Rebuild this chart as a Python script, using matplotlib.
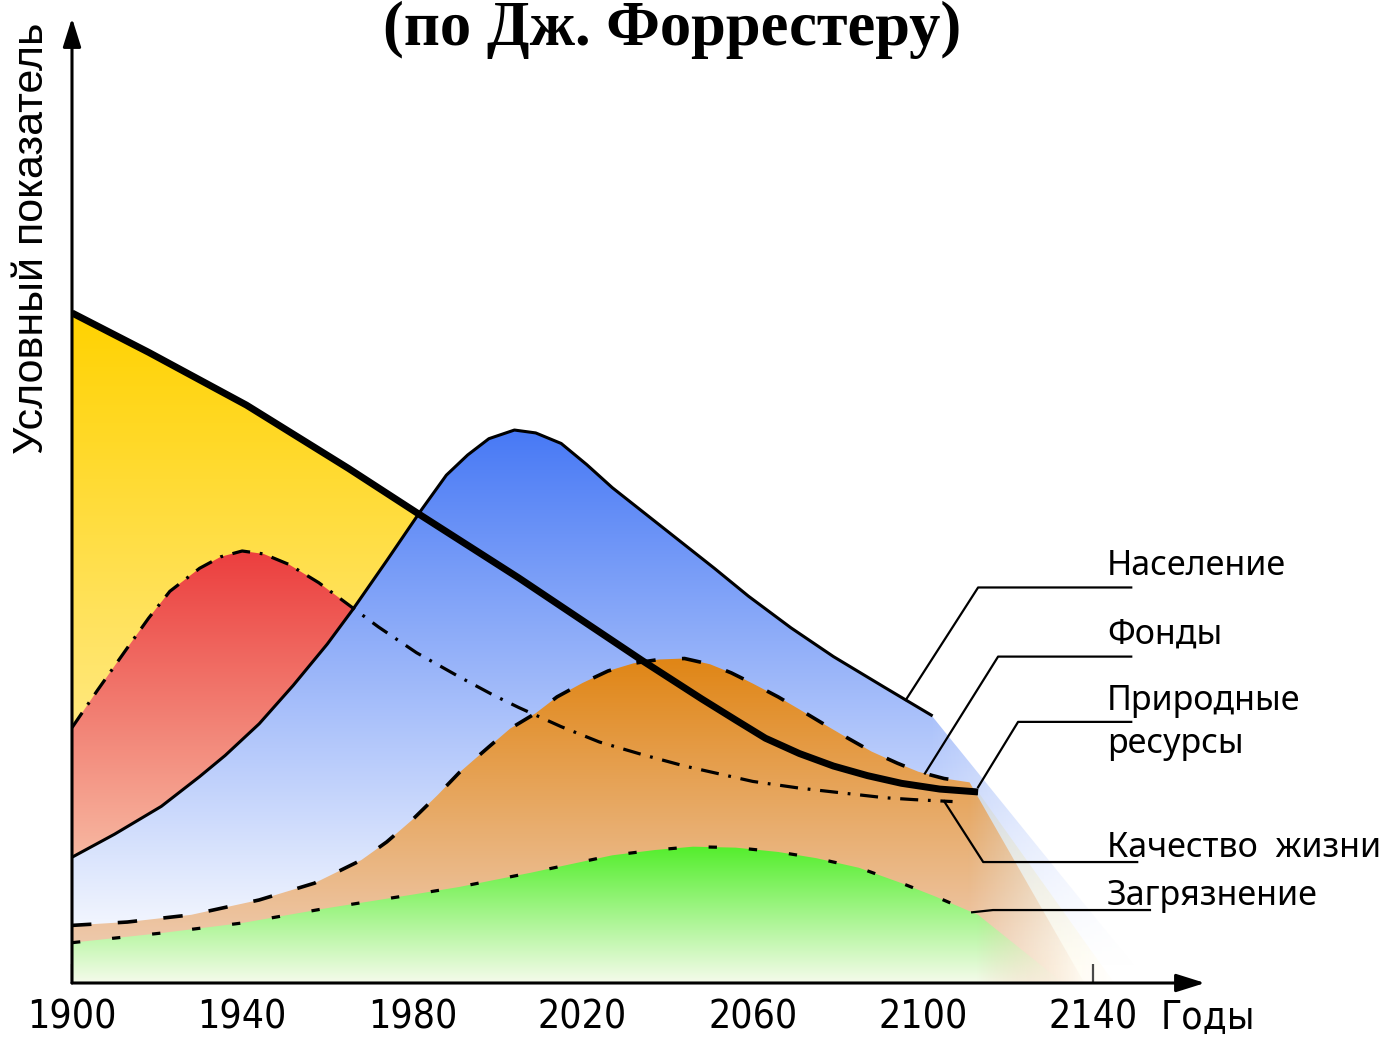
import numpy as np
import matplotlib
matplotlib.use('Agg')
import matplotlib.pyplot as plt
from matplotlib.colors import to_rgb
from matplotlib import font_manager as fm

plt.rcParams['lines.scale_dashes'] = False

# ---------------- data ----------------
tick_years = [1900, 1940, 1980, 2020, 2060, 2100, 2140]
tick_labels = ['1900', '1940', '1980', '2020', '2060', '2100', '2140']

# Природные ресурсы (thick solid)
res_years = [1900, 1918, 1941, 1965, 1981, 2005, 2034, 2041, 2048, 2056, 2063, 2071, 2079,
             2087, 2095, 2104, 2113]
res_vals = [69.8, 65.7, 60.2, 53.6, 49.0, 42.2, 33.6, 31.6, 29.6, 27.4, 25.5, 23.9, 22.6,
            21.6, 20.8, 20.2, 19.9]

# Население (thin solid)
pop_years = [1900, 1910, 1921, 1930, 1936, 1944, 1952, 1960, 1966, 1974, 1982, 1988, 1993,
             1998, 2004, 2009, 2015, 2021, 2027, 2035, 2043, 2051, 2059, 2069, 2079, 2091,
             2102]
pop_vals = [13.1, 15.5, 18.4, 21.5, 23.7, 27.0, 31.0, 35.3, 38.9, 44.0, 49.2, 52.9, 55.0,
            56.7, 57.6, 57.3, 56.2, 54.0, 51.6, 48.8, 46.0, 43.2, 40.3, 37.0, 34.0, 30.8,
            27.9]

# Качество жизни (dash-dot)
qol_years = [1900, 1906, 1913, 1918, 1923, 1930, 1935, 1940, 1945, 1951, 1958, 1965, 1972,
             1981, 1991, 1999, 2005, 2015, 2024, 2034, 2044, 2060, 2071, 2081, 2091, 2098,
             2107]
qol_vals = [26.6, 30.5, 34.9, 38.0, 40.8, 43.2, 44.4, 45.0, 44.7, 43.6, 41.7, 39.4, 37.1,
            34.4, 31.9, 30.0, 28.7, 26.7, 25.1, 23.8, 22.6, 21.0, 20.3, 19.8, 19.3, 19.1,
            18.9]
qol_red_end = 1972  # red area only shows where the curve is above population

# Фонды (dashed)
cap_years = [1900, 1913, 1928, 1944, 1957, 1968, 1974, 1980, 1986, 1991, 1998, 2003, 2009,
             2014, 2020, 2026, 2032, 2038, 2044, 2050, 2055, 2060, 2066, 2071, 2077, 2082,
             2088, 2094, 2099, 2105, 2111]
cap_vals = [6.0, 6.35, 7.1, 8.65, 10.4, 12.8, 14.7, 17.0, 19.6, 21.9, 24.6, 26.5, 28.1,
            29.8, 31.25, 32.5, 33.3, 33.7, 33.8, 33.2, 32.3, 31.2, 29.8, 28.5, 26.9, 25.6,
            24.1, 22.9, 22.0, 21.3, 20.9]

# Загрязнение (dotted)
pol_years = [1900, 1921, 1940, 1960, 1980, 1991, 2008, 2027, 2037, 2046, 2056, 2066, 2075,
             2085, 2095, 2103, 2113]
pol_vals = [4.2, 5.2, 6.25, 7.8, 9.2, 10.0, 11.5, 13.3, 13.85, 14.2, 14.1, 13.65, 13.0,
            12.0, 10.4, 9.0, 7.1]

# year where each faded tail reaches the axis
tail_pop, tail_res, tail_cap, tail_pol = 2153, 2145, 2138, 2133

labels = ['Население', 'Фонды', 'Природные', 'ресурсы', 'Качество  жизни', 'Загрязнение']

# ---------------- fonts ----------------
ttf = fm.fontManager.ttflist
names = {f.name for f in ttf}
if 'Liberation Sans Narrow' in names:
    tick_kw = dict(family='Liberation Sans Narrow', fontsize=31)
elif 'Arial Narrow' in names:
    tick_kw = dict(family='Arial Narrow', fontsize=31)
elif any(f.name == 'DejaVu Sans' and f.stretch in ('condensed', 'semi-condensed') for f in ttf):
    tick_kw = dict(family='DejaVu Sans', fontstretch='condensed', fontsize=28)
else:
    tick_kw = dict(family='Liberation Sans', fontsize=27)

# ---------------- figure ----------------
W, H, DPI = 1386, 1037, 100
fig = plt.figure(figsize=(W / DPI, H / DPI), dpi=DPI)
fig.patch.set_facecolor('white')
ax_l, ax_r, ax_t, ax_b = 72, 1205, 18, 983
ax = fig.add_axes([ax_l / W, 1 - ax_b / H, (ax_r - ax_l) / W, (ax_b - ax_t) / H])
ppy, ppu = 4.254, 9.6
x0, x1 = 1900, 1900 + (ax_r - ax_l) / ppy
y0, y1 = 0, (ax_b - ax_t) / ppu
ax.set_xlim(x0, x1)
ax.set_ylim(y0, y1)
for s in ax.spines.values():
    s.set_visible(False)
ax.set_facecolor('none')


def grad_fill(xs, ys, tail, c_top, c_bot, v_top, v_bot, z):
    xs_ext = list(xs) + ([tail] if tail else [])
    ys_ext = list(ys) + ([0] if tail else [])
    verts = [(xs_ext[0], 0)] + list(zip(xs_ext, ys_ext)) + [(xs_ext[-1], 0)]
    poly = plt.Polygon(verts, closed=True, facecolor='none', edgecolor='none',
                       transform=ax.transData)
    ax.add_patch(poly)
    ny, nx = 400, 600
    yy = np.linspace(y0, y1, ny)
    xx = np.linspace(x0, x1, nx)
    t = np.clip((yy - v_bot) / (v_top - v_bot), 0, 1)[:, None, None]
    ct, cb = np.array(to_rgb(c_top)), np.array(to_rgb(c_bot))
    rgb = np.broadcast_to(cb + (ct - cb) * t, (ny, nx, 3))
    alpha = np.ones(nx)
    if tail:
        fs = xs[-1]
        alpha = np.where(xx > fs, np.clip(1 - 0.95 * (xx - fs) / (tail - fs), 0, 1), 1.0)
    a = np.broadcast_to(alpha[None, :, None], (ny, nx, 1))
    img = np.concatenate([rgb, a], axis=2)
    im = ax.imshow(img, extent=[x0, x1, y0, y1], origin='lower', aspect='auto',
                   zorder=z, interpolation='bilinear')
    im.set_clip_path(poly)


red_n = sum(1 for y in qol_years if y <= qol_red_end)
grad_fill(res_years, res_vals, tail_res, '#FFD200', '#FFF6CC', 70, 0, 1)
grad_fill(qol_years[:red_n], qol_vals[:red_n], None, '#EC3E3E', '#F8C3AA', 45, 10, 2)
grad_fill(pop_years, pop_vals, tail_pop, '#4678F5', '#FFFFFF', 58, 2, 3)
grad_fill(cap_years, cap_vals, tail_cap, '#E08514', '#EEC9AC', 34, 4, 4)
grad_fill(pol_years, pol_vals, tail_pol, '#55EE2E', '#F4FBEA', 14, 0, 5)

ax.set_xlim(x0, x1)
ax.set_ylim(y0, y1)

# curves
ax.plot(pop_years, pop_vals, color='black', lw=2.2, zorder=7, solid_joinstyle='round')
ax.plot(res_years, res_vals, color='black', lw=5, zorder=8, solid_capstyle='butt',
        solid_joinstyle='round')
ax.plot(qol_years, qol_vals, color='black', lw=2.3, ls=(0, (13, 7, 2, 7)), zorder=9)
ax.plot(cap_years, cap_vals, color='black', lw=2.6, ls=(0, (14, 19)), zorder=9)
ax.plot(pol_years, pol_vals, color='black', lw=2.3, ls=(0, (6, 23)), zorder=9)

# axes with arrows
arrow = dict(arrowstyle='-|>,head_length=0.7,head_width=0.22', lw=2.2, color='black',
             mutation_scale=25, shrinkA=0, shrinkB=0)
ax.annotate('', xy=(0, 1), xytext=(0, 0), xycoords='axes fraction', arrowprops=arrow,
            zorder=20)
ax.annotate('', xy=(1, 0), xytext=(0, 0), xycoords='axes fraction', arrowprops=arrow,
            zorder=20)

ax.set_xticks(tick_years)
ax.set_xticklabels(tick_labels, **tick_kw)
ax.tick_params(axis='x', direction='in', length=14, width=1.6, pad=11, color='black')
ax.set_yticks([])
ax.text(2156, -3.6, 'Годы', ha='left', va='center', clip_on=False, **tick_kw)


def yat(xs, ys, x):
    return float(np.interp(x, xs, ys))


lab_font = ['Noto Sans', 'DejaVu Sans']
lab_x = 2143.3
lw_lead = 1.6
# Население
ax.plot([2096, 2113, 2149], [yat(pop_years, pop_vals, 2096), 41.2, 41.2], color='black',
        lw=lw_lead, zorder=10, clip_on=False)
# Фонды
ax.plot([2100.5, 2117.7, 2149], [yat(cap_years, cap_vals, 2100.5), 34.0, 34.0],
        color='black', lw=lw_lead, zorder=10, clip_on=False)
# Природные ресурсы
ax.plot([2113, 2122.4, 2149], [yat(res_years, res_vals, 2113) + 0.5, 27.2, 27.2],
        color='black', lw=lw_lead, zorder=10, clip_on=False)
# Качество жизни
ax.plot([2105, 2114.2, 2150.4], [yat(qol_years, qol_vals, 2105), 12.6, 12.6],
        color='black', lw=lw_lead, zorder=10, clip_on=False)
# Загрязнение
ax.plot([2111.6, 2116.5, 2153.4], [yat(pol_years, pol_vals, 2111.6), 7.6, 7.6],
        color='black', lw=lw_lead, zorder=10, clip_on=False)

lab_y = [42.5, 35.4, 28.4, 24.0, 13.1, 8.1]
for txt, yv in zip(labels, lab_y):
    ax.text(lab_x, yv, txt, ha='left', va='baseline', fontsize=24.5, family=lab_font,
            clip_on=False, zorder=11)

# title & y label
fig.text(672 / W, 0.999, '(по Дж. Форрестеру)', ha='center', va='top',
         fontsize=45, fontweight='bold', family=['Liberation Serif', 'DejaVu Serif'])
fig.text(32 / W, 1 - 238 / H, 'Условный показатель', rotation=90, ha='center',
         va='center', fontsize=31, family=['Liberation Sans', 'DejaVu Sans'])

fig.savefig('out.png', dpi=DPI, facecolor='white')
